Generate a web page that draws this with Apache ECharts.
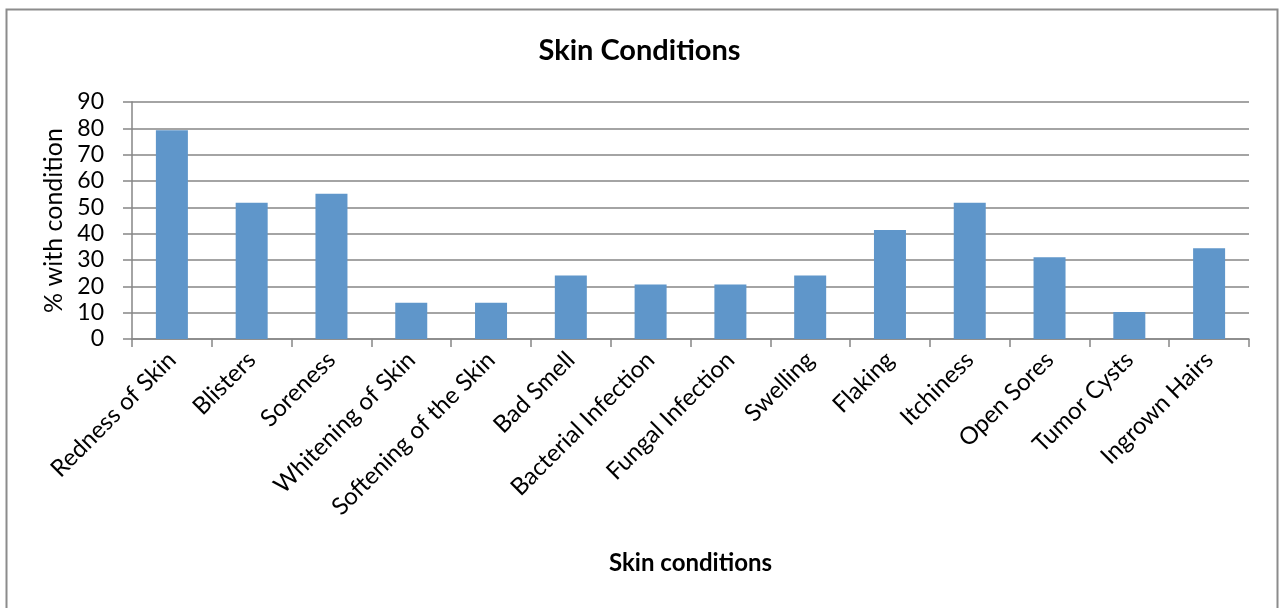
<!DOCTYPE html>
<html>
<head>
<meta charset="utf-8">
<script src="https://cdn.jsdelivr.net/npm/echarts@6/dist/echarts.min.js"></script>
<style>
  html, body { margin: 0; padding: 0; background: #ffffff; }
  #chart { width: 1279px; height: 608px; }
</style>
</head>
<body>
<div id="chart"></div>
<script>
// Share of people reporting each skin condition
const categories = [
  'Redness of Skin', 'Blisters', 'Soreness', 'Whitening of Skin',
  'Softening of the Skin', 'Bad Smell', 'Bacterial Infection',
  'Fungal Infection', 'Swelling', 'Flaking', 'Itchiness',
  'Open Sores', 'Tumor Cysts', 'Ingrown Hairs'
];
const percentWithCondition = [
  79.3, 51.7, 55.2, 13.8, 13.8, 24.1, 20.7,
  20.7, 24.1, 41.4, 51.7, 31.0, 10.3, 34.5
];

const FONT = 'Lato, Carlito, "Open Sans", sans-serif';
const GRID_GREY = '#868686';

const chart = echarts.init(document.getElementById('chart'), null, { renderer: 'canvas' });

chart.setOption({
  backgroundColor: '#ffffff',
  animation: false,
  graphic: [{
    type: 'rect',
    shape: { x: 6.5, y: 9.5, width: 1271, height: 620 },
    style: { fill: 'none', stroke: '#8c8c8c', lineWidth: 2 },
    silent: true,
    z: -1
  }],
  title: {
    text: 'Skin Conditions',
    left: 'center',
    top: 31,
    textStyle: { fontFamily: FONT, fontSize: 29, fontWeight: 'bold', color: '#000000' }
  },
  grid: { left: 132, right: 30, top: 102, bottom: 269, containLabel: false },
  xAxis: {
    type: 'category',
    data: categories,
    name: 'Skin conditions',
    nameLocation: 'middle',
    nameGap: 212,
    nameTextStyle: { fontFamily: FONT, fontSize: 24, fontWeight: 'bold', color: '#000000' },
    axisLine: { lineStyle: { color: GRID_GREY, width: 1.5 } },
    axisTick: { show: true, length: 8, inside: false, lineStyle: { color: GRID_GREY, width: 1.5 } },
    axisLabel: {
      interval: 0,
      rotate: 45,
      margin: 17,
      fontFamily: FONT,
      fontSize: 24,
      color: '#000000'
    },
    splitLine: { show: false }
  },
  yAxis: {
    type: 'value',
    min: 0,
    max: 90,
    interval: 10,
    name: '% with condition',
    nameLocation: 'middle',
    nameRotate: 90,
    nameGap: 57,
    nameTextStyle: { fontFamily: FONT, fontSize: 25, color: '#000000' },
    axisLine: { show: true, lineStyle: { color: GRID_GREY, width: 1.5 } },
    axisTick: { show: true, length: 9, lineStyle: { color: GRID_GREY, width: 1.5 } },
    axisLabel: { margin: 28, fontFamily: FONT, fontSize: 23, color: '#000000' },
    splitLine: { show: true, lineStyle: { color: GRID_GREY, width: 1.5 } }
  },
  series: [{
    type: 'bar',
    data: percentWithCondition,
    barWidth: 32,
    itemStyle: { color: '#5f96ca' },
    emphasis: { disabled: true }
  }]
});
</script>
</body>
</html>
